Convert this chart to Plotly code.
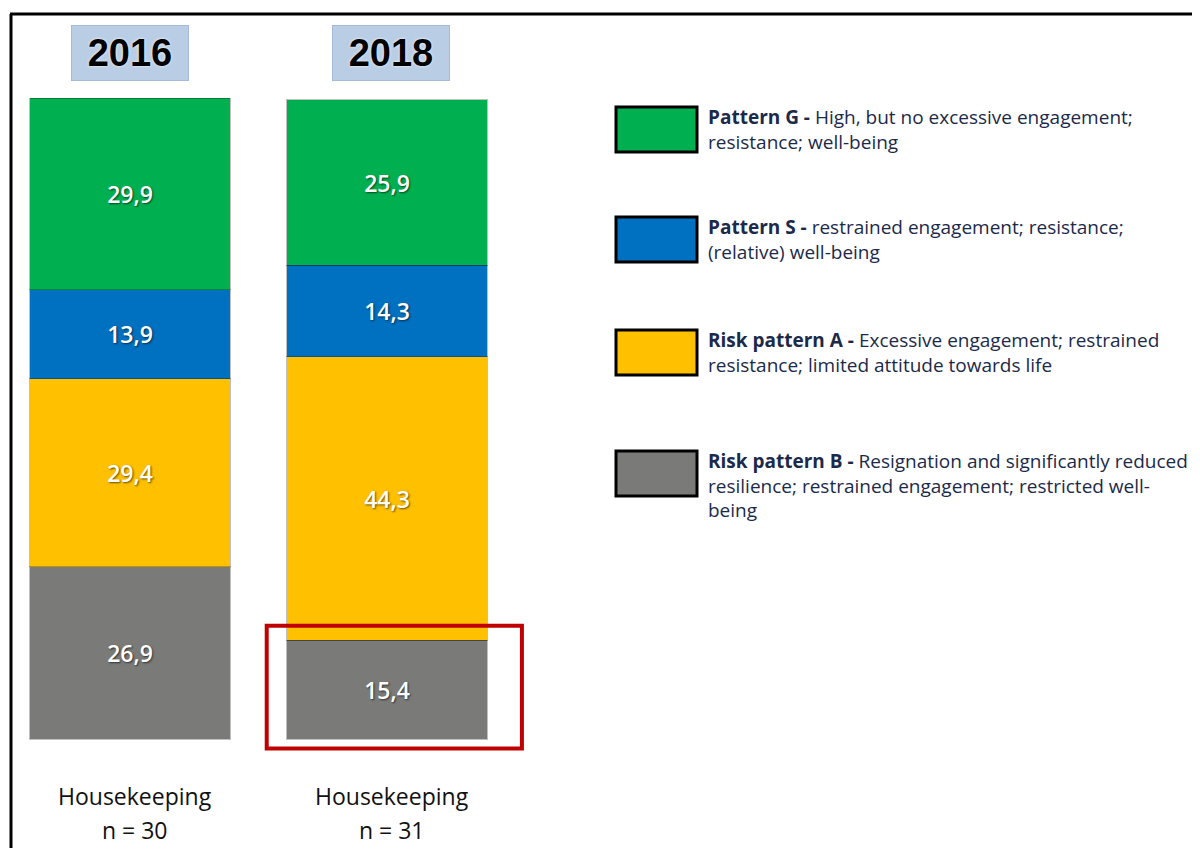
import plotly.graph_objects as go

years = ["2016", "2018"]
group_labels = ["Housekeeping", "Housekeeping"]
n_labels = ["n = 30", "n = 31"]

patterns = ["Risk pattern B", "Risk pattern A", "Pattern S", "Pattern G"]
values_2016 = [26.9, 29.4, 13.9, 29.9]
values_2018 = [15.4, 44.3, 14.3, 25.9]
colors = ["#7A7B79", "#FFC000", "#0070C0", "#00B050"]

legend_bold = ["Pattern G - ", "Pattern S - ", "Risk pattern A - ", "Risk pattern B - "]
legend_rest = [
    "High, but no excessive engagement;<br>resistance; well-being",
    "restrained engagement; resistance;<br>(relative) well-being",
    "Excessive engagement; restrained<br>resistance; limited attitude towards life",
    "Resignation and significantly reduced<br>resilience; restrained engagement; restricted well-<br>being",
]
legend_colors = ["#00B050", "#0070C0", "#FFC000", "#7A7B79"]

# page has an 8px body margin; figure sized so the page fits the 1200x856 window
OFF = 8
W, H = 1200 - 2 * OFF, 856 - 2 * OFF
x_pos = [0, 1]
bar_width = 0.78
px_per_x = 257.0
x0_px = 130.0 - OFF
px_per_y = 6.4
y0_px = 739.0 - OFF

fig = go.Figure()
for i, name in enumerate(patterns):
    vals = [values_2016[i], values_2018[i]]
    fig.add_trace(go.Bar(
        x=x_pos, y=vals, width=bar_width, name=name,
        marker=dict(color=colors[i], line=dict(color="rgba(0,0,0,0.25)", width=1)),
        text=[f"{v:.1f}".replace(".", ",") for v in vals],
        textposition="inside", insidetextanchor="middle",
        textfont=dict(family="Open Sans", size=23, color="white", weight=600,
                      shadow="1px 1px 2px rgba(0,0,0,0.6)"),
        showlegend=False, hoverinfo="skip",
    ))

def px2paper_x(px):
    return (px - OFF) / W

def px2paper_y(py):
    return 1 - (py - OFF) / H

shapes = []
annotations = []

# year headers
for i, yr in enumerate(years):
    annotations.append(dict(
        x=x_pos[i] + (0.0 if i == 0 else 0.015), xref="x", y=px2paper_y(53), yref="paper",
        text=f"<b>{yr}</b>", showarrow=False, xanchor="center", yanchor="middle",
        font=dict(family="Liberation Sans", size=38, color="black",
                  shadow="0px 0px 3px white"),
        bgcolor="#B9CDE5", bordercolor="#A4BAD8", borderwidth=1,
        width=114, height=52, borderpad=1,
    ))

# category labels
for i in range(len(years)):
    annotations.append(dict(
        x=x_pos[i] + 0.02, xref="x", y=px2paper_y(796), yref="paper",
        text=group_labels[i], showarrow=False, xanchor="center", yanchor="middle",
        font=dict(family="Open Sans", size=23, color="#111111"),
    ))
    annotations.append(dict(
        x=x_pos[i] + 0.02, xref="x", y=px2paper_y(830), yref="paper",
        text=n_labels[i], showarrow=False, xanchor="center", yanchor="middle",
        font=dict(family="Open Sans", size=23, color="#111111"),
    ))

# legend
box_tops = [107, 217, 330, 451]
for i in range(4):
    t = box_tops[i]
    shapes.append(dict(type="rect", xref="paper", yref="paper",
                       x0=px2paper_x(616), x1=px2paper_x(697),
                       y0=px2paper_y(t + 45), y1=px2paper_y(t),
                       fillcolor=legend_colors[i], line=dict(color="black", width=3)))
    annotations.append(dict(
        x=px2paper_x(706), xref="paper", y=px2paper_y(t - 5), yref="paper",
        text=f"<b>{legend_bold[i]}</b>{legend_rest[i]}", showarrow=False,
        xanchor="left", yanchor="top", align="left",
        font=dict(family="Open Sans", size=19, color="#1B2A4A"),
    ))

# red highlight around 2018 risk pattern B
shapes.append(dict(type="rect", xref="x", yref="y",
                   x0=x_pos[1] - bar_width / 2 - 0.078, x1=x_pos[1] + bar_width / 2 + 0.135,
                   y0=-1.5, y1=values_2018[0] + 2.3,
                   line=dict(color="#C00000", width=4)))

# frame lines
shapes.append(dict(type="line", xref="paper", yref="paper",
                   x0=px2paper_x(10), x1=1, y0=px2paper_y(14), y1=px2paper_y(14),
                   line=dict(color="black", width=3)))
shapes.append(dict(type="line", xref="paper", yref="paper",
                   x0=px2paper_x(11), x1=px2paper_x(11), y0=px2paper_y(14), y1=0,
                   line=dict(color="black", width=3)))

fig.update_layout(
    barmode="stack",
    width=W, height=H,
    margin=dict(l=0, r=0, t=0, b=0),
    paper_bgcolor="white", plot_bgcolor="white",
    xaxis=dict(range=[-x0_px / px_per_x, (W - x0_px) / px_per_x], visible=False, fixedrange=True),
    yaxis=dict(range=[-(H - y0_px) / px_per_y, y0_px / px_per_y], visible=False, fixedrange=True),
    shapes=shapes, annotations=annotations,
    uniformtext=dict(mode=False),
)

fig.write_html("out.html")
